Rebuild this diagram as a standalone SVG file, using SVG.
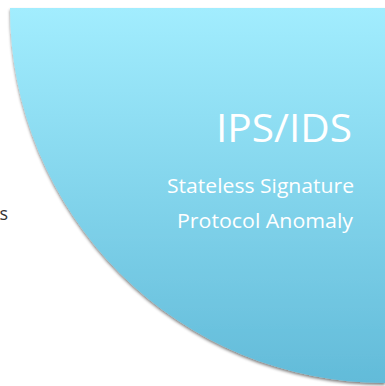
<svg xmlns="http://www.w3.org/2000/svg" width="385" height="386" viewBox="0 0 385 386">
  <defs>
    <linearGradient id="fill" x1="0" y1="8" x2="0" y2="383" gradientUnits="userSpaceOnUse">
      <stop offset="0" stop-color="#a2edfe"/>
      <stop offset="1" stop-color="#62bbd9"/>
    </linearGradient>
    <filter id="shadow" x="-10%" y="-10%" width="120%" height="120%">
      <feGaussianBlur in="SourceAlpha" stdDeviation="1.5"/>
      <feOffset dx="0" dy="1.5" result="b"/>
      <feFlood flood-color="#000" flood-opacity="0.5"/>
      <feComposite in2="b" operator="in"/>
      <feMerge>
        <feMergeNode/>
        <feMergeNode in="SourceGraphic"/>
      </feMerge>
    </filter>
    <style>
      .w { fill: #ffffff; font-family: "Open Sans", "Liberation Sans", sans-serif; text-anchor: end; }
      .d { fill: #333333; font-family: "Open Sans", "Liberation Sans", sans-serif; text-anchor: end; }
    </style>
  </defs>
  <rect width="385" height="386" fill="#ffffff"/>
  <g id="ips-ids">
    <path d="M10,8 H385 V383 A375,375 0 0 1 10,8 Z" fill="url(#fill)" filter="url(#shadow)"/>
    <text class="w" x="352" y="142" font-size="38" textLength="136" lengthAdjust="spacingAndGlyphs">IPS/IDS</text>
    <text class="w" x="354" y="193" font-size="20" textLength="187" lengthAdjust="spacingAndGlyphs">Stateless Signature</text>
    <text class="w" x="353" y="228" font-size="20" textLength="176" lengthAdjust="spacingAndGlyphs">Protocol Anomaly</text>
  </g>
  <g id="left-label">
    <text class="d" x="8" y="220" font-size="18">s</text>
  </g>
</svg>
